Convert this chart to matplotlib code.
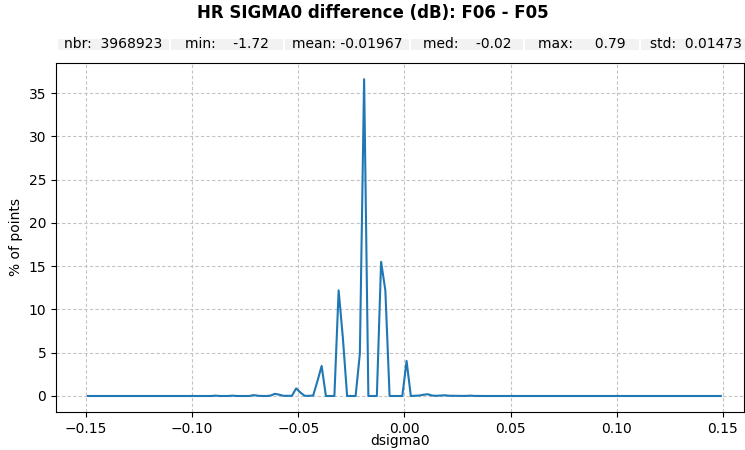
import numpy as np
import matplotlib
matplotlib.use("Agg")
import matplotlib.pyplot as plt

# histogram bin centres (bins of width 0.002 from -0.15 to 0.15)
bin_centers = np.linspace(-0.149, 0.149, 150)
pct_points = [
    0, 0, 0, 0, 0, 0, 0, 0, 0, 0,
    0, 0, 0, 0, 0, 0, 0, 0, 0, 0,
    0, 0, 0, 0, 0, 0, 0, 0, 0, 0,
    0.04, 0, 0, 0, 0.04, 0, 0, 0, 0, 0.1,
    0.03, 0, 0, 0.05, 0.25, 0.15, 0.02, 0.02, 0.02, 0.88,
    0.4, 0.02, 0.02, 0.05, 1.7, 3.47, 0, 0, 0, 12.2,
    6.7, 0, 0, 0, 4.9, 36.6, 0, 0, 0, 15.5,
    12.2, 0, 0, 0, 0, 4.05, 0, 0.02, 0.05, 0.15,
    0.2, 0.05, 0.02, 0.05, 0.08, 0.03, 0.02, 0.02, 0.01, 0.01,
    0.04, 0.01, 0, 0, 0, 0, 0, 0, 0, 0,
    0, 0, 0, 0, 0, 0, 0, 0, 0, 0,
    0, 0, 0, 0, 0, 0, 0, 0, 0, 0,
    0, 0, 0, 0, 0, 0, 0, 0, 0, 0,
    0, 0, 0, 0, 0, 0, 0, 0, 0, 0,
    0, 0, 0, 0, 0, 0, 0, 0, 0, 0,
]
stats_cells = ["nbr:  3968923", "min:    -1.72", "mean: -0.01967",
               "med:    -0.02", "max:     0.79", "std:  0.01473"]
title = "HR SIGMA0 difference (dB): F06 - F05"

W, H = 745, 450
fig = plt.figure(figsize=(W / 100, H / 100), dpi=100)
ax = fig.add_axes([56 / W, 1 - 412 / H, 688 / W, 349 / H])
ax.plot(bin_centers, pct_points, color="#1f77b4", lw=1.5)
ax.set_xlim(-0.1641, 0.1599)
ax.set_ylim(-1.85, 38.47)
ax.set_xticks([-0.15, -0.10, -0.05, 0.00, 0.05, 0.10, 0.15])
ax.set_yticks([0, 5, 10, 15, 20, 25, 30, 35])
ax.grid(True, linestyle=(0, (3, 2)), color="#c4c4c4", lw=0.8)
ax.set_xlabel("dsigma0", fontsize=10, labelpad=-1)
ax.set_ylabel("% of points", fontsize=10)
ax.tick_params(labelsize=10)

fig.text(0.5, 1 - 12.5 / H, title, ha="center", va="center",
         fontsize=12, fontweight="bold")

col_px = [113, 114, 126, 114, 116, 112]
total = sum(col_px)
tax = fig.add_axes([57 / W, 1 - 51 / H, total / W, 13 / H])
tax.axis("off")
tbl = tax.table(cellText=[stats_cells], bbox=[0, 0, 1, 1], cellLoc="center",
                colWidths=[c / total for c in col_px])
tbl.auto_set_font_size(False)
tbl.set_fontsize(10)
for (r, c), cell in tbl.get_celld().items():
    cell.set_facecolor("#f2f2f2")
    cell.set_edgecolor("white")
    cell.set_linewidth(1.5)

fig.savefig("out.png", dpi=100)
